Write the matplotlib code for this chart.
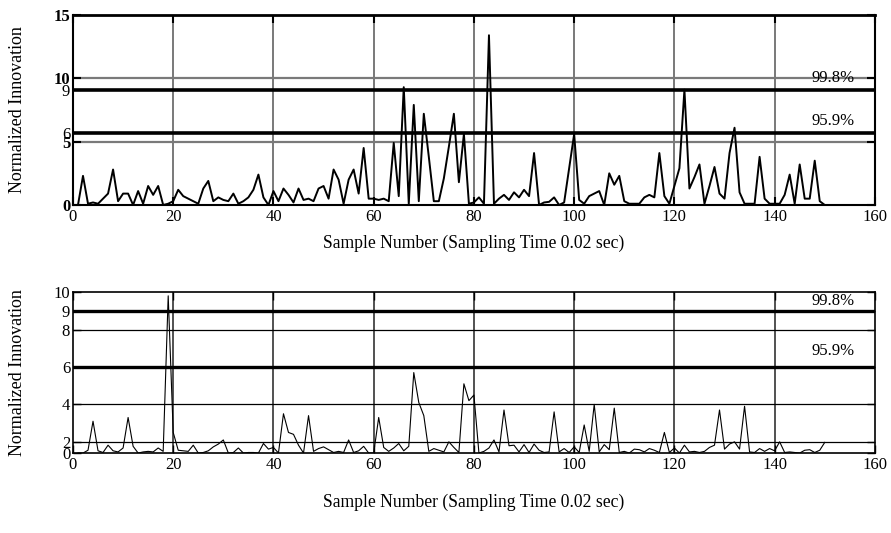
import matplotlib.pyplot as plt
import numpy as np
from matplotlib.transforms import ScaledTranslation

plt.rcParams['font.family'] = ['Liberation Serif', 'DejaVu Serif']

samples = np.arange(1, 151)

# upper panel: normalized innovation per sample
innov_top = [
    0.0, 2.3, 0.1, 0.2, 0.1, 0.5, 0.9, 2.8, 0.3, 0.9,
    0.9, 0.0, 1.1, 0.1, 1.5, 0.8, 1.5, 0.0, 0.1, 0.3,
    1.2, 0.7, 0.5, 0.3, 0.1, 1.3, 1.9, 0.3, 0.6, 0.4,
    0.3, 0.9, 0.1, 0.3, 0.6, 1.2, 2.4, 0.6, 0.0, 1.1,
    0.3, 1.3, 0.8, 0.2, 1.3, 0.4, 0.5, 0.3, 1.3, 1.5,
    0.5, 2.8, 2.0, 0.1, 2.0, 2.8, 0.9, 4.5, 0.5, 0.5,
    0.4, 0.5, 0.3, 4.9, 0.7, 9.3, 0.1, 7.9, 0.3, 7.2,
    3.8, 0.3, 0.3, 2.1, 4.6, 7.2, 1.8, 5.6, 0.1, 0.2,
    0.6, 0.1, 13.4, 0.1, 0.5, 0.8, 0.4, 1.0, 0.6, 1.2,
    0.7, 4.1, 0.0, 0.2, 0.25, 0.6, 0.0, 0.2, 2.9, 5.6,
    0.4, 0.1, 0.7, 0.9, 1.1, 0.0, 2.5, 1.6, 2.3, 0.3,
    0.1, 0.1, 0.1, 0.6, 0.8, 0.6, 4.1, 0.7, 0.1, 1.5,
    2.9, 9.1, 1.3, 2.2, 3.2, 0.1, 1.5, 3.0, 0.9, 0.5,
    4.1, 6.1, 1.0, 0.1, 0.1, 0.1, 3.8, 0.5, 0.1, 0.1,
    0.1, 0.8, 2.4, 0.1, 3.2, 0.5, 0.5, 3.5, 0.3, 0.0,
]

# lower panel
innov_bot = [
    0.0, 0.0, 0.5, 3.1, 0.4, 0.1, 1.4, 0.4, 0.2, 0.9,
    3.3, 1.2, 0.0, 0.2, 0.3, 0.2, 0.9, 0.3, 9.8, 2.5,
    0.5, 0.4, 0.3, 1.4, 0.0, 0.1, 0.4, 1.1, 1.6, 2.1,
    0.0, 0.1, 0.9, 0.0, 0.1, 0.1, 0.0, 1.7, 0.7, 1.0,
    0.0, 3.5, 2.5, 2.4, 1.4, 0.0, 3.4, 0.3, 0.8, 1.1,
    0.6, 0.1, 0.3, 0.1, 2.1, 0.1, 0.4, 1.2, 0.0, 0.0,
    3.3, 1.0, 0.3, 0.9, 1.7, 0.4, 1.2, 5.7, 4.1, 3.4,
    0.3, 0.8, 0.5, 0.2, 2.0, 1.0, 0.1, 5.1, 4.2, 4.5,
    0.0, 0.3, 0.9, 2.1, 0.2, 3.7, 1.3, 1.4, 0.2, 1.5,
    0.1, 1.6, 0.5, 0.1, 0.2, 3.6, 0.2, 0.8, 0.1, 1.1,
    0.1, 2.9, 0.3, 4.0, 0.2, 1.5, 0.6, 3.8, 0.1, 0.3,
    0.0, 0.7, 0.6, 0.2, 0.8, 0.5, 0.1, 2.5, 0.1, 0.9,
    0.0, 1.4, 0.2, 0.3, 0.1, 0.3, 1.0, 1.4, 3.7, 0.7,
    1.6, 2.0, 0.7, 3.9, 0.2, 0.1, 0.8, 0.3, 0.8, 0.4,
    2.0, 0.1, 0.2, 0.1, 0.0, 0.5, 0.6, 0.1, 0.5, 1.9,
]

thr_top = [9.1, 5.7]
thr_bot = [9.0, 6.0]
thr_labels = ['99.8%', '95.9%']
xticks = list(range(0, 161, 20))


# the lower panel in the original squeezes the 0-2 band
def squeeze(v):
    v = np.asarray(v, dtype=float)
    return np.where(v < 2, v * 0.3, v - 1.4)


def unsqueeze(u):
    u = np.asarray(u, dtype=float)
    return np.where(u < 0.6, u / 0.3, u + 1.4)


fig = plt.figure(figsize=(8.91, 5.33), dpi=100)
ax1 = fig.add_axes([0.0819, 0.6154, 0.900, 0.3565])
ax2 = fig.add_axes([0.0819, 0.150, 0.900, 0.302])

xlab = 'Sample Number (Sampling Time 0.02 sec)'
ylab = 'Normalized Innovation'

# ---- top panel
ax1.set_xlim(0, 160)
ax1.set_ylim(0, 15)
for x in xticks[1:-1]:
    ax1.axvline(x, color='#6e6e6e', lw=1.3, zorder=1)
for y in [5, 10]:
    ax1.axhline(y, color='#7a7a7a', lw=1.6, zorder=1)
for y in thr_top:
    ax1.axhline(y, color='black', lw=2.6, zorder=2)
ax1.plot(samples, innov_top, color='black', lw=1.4, zorder=3)
ax1.text(156, 10.05, thr_labels[0], ha='right', va='center', fontsize=12)
ax1.text(156, 6.6, thr_labels[1], ha='right', va='center', fontsize=12)

ax1.set_xticks(xticks)
ax1.set_yticks([0, 5, thr_top[1], thr_top[0], 10, 15])
ax1.set_yticklabels(['0', '5', '6', '9', '10', '15'])
for lab in ax1.get_yticklabels():
    if lab.get_text() in ('0', '5', '10', '15'):
        lab.set_fontweight('bold')
    if lab.get_text() == '6':
        # nudge the "6" up so it sits above the bold "5" like the original
        lab.set_transform(lab.get_transform()
                          + ScaledTranslation(0, 4 / 72, fig.dpi_scale_trans))
ax1.tick_params(direction='in', length=6, width=1.5, labelsize=12,
                top=True, right=True, pad=2)
ax1.tick_params(axis='x', pad=3)
for s in ax1.spines.values():
    s.set_linewidth(1.5)
ax1.spines['top'].set_linewidth(2)
ax1.set_xlabel(xlab, fontsize=12.7)
ax1.set_ylabel(ylab, fontsize=13)
ax1.xaxis.set_label_coords(0.5, -0.155)
ax1.yaxis.set_label_coords(-0.058, 0.5)

# ---- bottom panel
ax2.set_yscale('function', functions=(squeeze, unsqueeze))
ax2.set_xlim(0, 160)
ax2.set_ylim(0, 10)
for x in xticks[1:-1]:
    ax2.axvline(x, color='#222222', lw=1.1, zorder=1)
for y in [2, 4, 8]:
    ax2.axhline(y, color='black', lw=0.9, zorder=1)
for y in thr_bot:
    ax2.axhline(y, color='black', lw=2.4, zorder=2)
ax2.plot(samples, innov_bot, color='black', lw=0.8, zorder=3)
ax2.text(156, 9.5, thr_labels[0], ha='right', va='center', fontsize=12)
ax2.text(156, 6.85, thr_labels[1], ha='right', va='center', fontsize=12)

ax2.set_xticks(xticks)
ax2.set_yticks([0, 2, 4, 6, 8, 9, 10])
ax2.set_yticklabels(['0', '2', '4', '6', '8', '9', '10'])
ax2.minorticks_off()
ax2.tick_params(direction='in', length=6, width=1, labelsize=12,
                top=True, right=True, pad=2)
ax2.tick_params(axis='x', pad=3)
for s in ax2.spines.values():
    s.set_linewidth(1.2)
ax2.set_xlabel(xlab, fontsize=12.7)
ax2.set_ylabel(ylab, fontsize=13)
ax2.xaxis.set_label_coords(0.5, -0.25)
ax2.yaxis.set_label_coords(-0.058, 0.5)

fig.savefig('out.png', dpi=100)
